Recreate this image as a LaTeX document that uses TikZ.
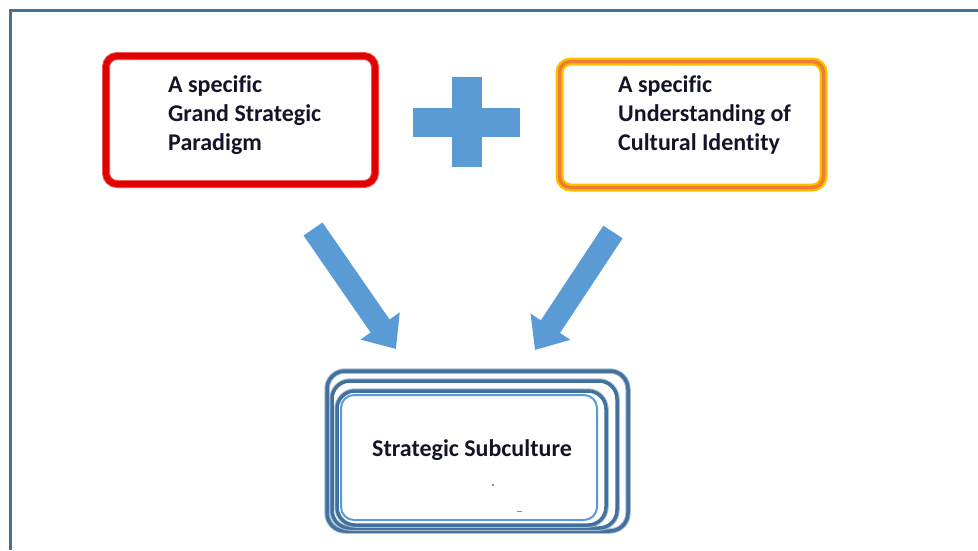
\documentclass[tikz,border=0pt]{standalone}
\usepackage{fontspec}
\setmainfont{Carlito}[Ligatures={NoCommon}]
\usepackage{tikz}
\usetikzlibrary{arrows.meta}
\usetikzlibrary{positioning}

\definecolor{frameblue}{RGB}{65,113,156}
\definecolor{arrowblue}{RGB}{91,155,213}
\definecolor{boxred}{RGB}{224,0,0}
\definecolor{boxorange}{RGB}{237,125,49}
\definecolor{glowyellow}{RGB}{255,192,0}
\definecolor{textnavy}{RGB}{20,20,40}

\begin{document}
\begin{tikzpicture}[x=1pt,y=-1pt,
    boxtext/.style={font=\bfseries\fontsize{24}{29}\selectfont, align=left, text=textnavy, inner sep=0pt, anchor=west},
    bigarrow/.style={arrowblue, line width=23pt, -{Triangle[width=46pt,length=28pt]}},
    stackbox/.style={draw=frameblue, line width=3.5pt, rounded corners=18pt, preaction={draw=frameblue!45, line width=5.5pt}}]
        \useasboundingbox (0,0) rectangle (978,550);
        \draw[frameblue, line width=3pt] (10.5,550) -- (10.5,10.5) -- (978,10.5);
        \node[draw=boxred, line width=6pt, rounded corners=11pt, minimum width=269pt, minimum height=128pt, inner sep=0pt, preaction={draw=boxred!65, line width=8pt}] (paradigmbox) at (240.5,120) {};
        \node[draw=boxorange, line width=3.5pt, rounded corners=11pt, minimum width=264pt, minimum height=126pt, inner sep=0pt, preaction={draw=glowyellow, line width=8pt}] (identitybox) at (691.5,124.5) {};
        \node[boxtext] (paradigm) at (168,115) {A specific\\Grand Strategic\\Paradigm};
        \node[boxtext] (identity) at (618,115) {A specific\\Understanding of\\Cultural Identity};
        \fill[arrowblue] (452,77) rectangle (482,167);
        \fill[arrowblue] (413,108) rectangle (520,137);
        \coordinate (leftfrom) at (313,229);
        \coordinate (leftto) at (396,349);
        \coordinate (rightfrom) at (613,232);
        \coordinate (rightto) at (535,350);
        \draw[bigarrow] (leftfrom) -- (leftto);
        \draw[bigarrow] (rightfrom) -- (rightto);
        \draw[stackbox] (327,371) rectangle (628,531);
        \draw[stackbox, fill=white] (332,381) rectangle (617,528);
        \draw[stackbox, fill=white] (337,391) rectangle (606,525);
        \node[draw=arrowblue, line width=2pt, rounded corners=13pt, minimum width=256pt, minimum height=125pt, inner sep=0pt, fill=white] (subculturebox) at (469,457.5) {};
        \node[boxtext] (subculture) at (372,450) {Strategic Subculture};
        \fill[arrowblue] (492,484) rectangle (494,486);
        \fill[arrowblue] (517,510.5) rectangle (522,512);
    \end{tikzpicture}
\end{document}
